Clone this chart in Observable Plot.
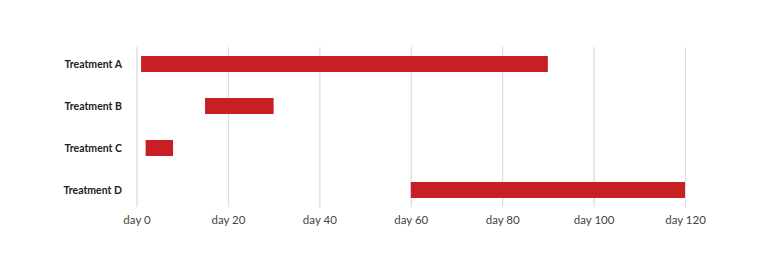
<!DOCTYPE html>
<html>
<head>
<meta charset="utf-8">
<script src="https://cdn.jsdelivr.net/npm/d3@7"></script>
<script src="https://cdn.jsdelivr.net/npm/@observablehq/plot@0.6"></script>
<style>
  html, body { margin: 0; padding: 0; background: #fff; }
  #chart { width: 768px; height: 272px; }
  svg { font-family: Lato, "Open Sans", sans-serif; }
</style>
</head>
<body>
<div id="chart"></div>
<script>
const treatments = ["Treatment A", "Treatment B", "Treatment C", "Treatment D"];
const starts = [1, 15, 2, 60];
const ends = [90, 30, 8, 120];
const xTicks = [0, 20, 40, 60, 80, 100, 120];

const data = treatments.map((t, i) => ({treatment: t, start: starts[i], end: ends[i]}));

const chart = Plot.plot({
  width: 768,
  height: 272,
  marginTop: 47,
  marginBottom: 65,
  marginLeft: 136.5,
  marginRight: 83,
  style: {fontFamily: "Lato, 'Open Sans', sans-serif", background: "#fff"},
  x: {domain: [0, 120], ticks: xTicks, grid: true},
  y: {domain: treatments, paddingInner: 0.62, paddingOuter: 0.214},
  marks: [
    Plot.gridX(xTicks, {stroke: "#dddddd", strokeOpacity: 1}),
    Plot.barX(data, {y: "treatment", x1: "start", x2: "end", fill: "#c81f24"}),
    Plot.axisX(xTicks, {tickSize: 0, tickPadding: 8, tickFormat: d => `day ${d}`, fontSize: 11.5, fill: "#444", label: null}),
    Plot.axisY({tickSize: 0, tickPadding: 15, fontSize: 10.5, fontWeight: "bold", fill: "#222", label: null})
  ]
});
document.getElementById("chart").appendChild(chart);
</script>
</body>
</html>
